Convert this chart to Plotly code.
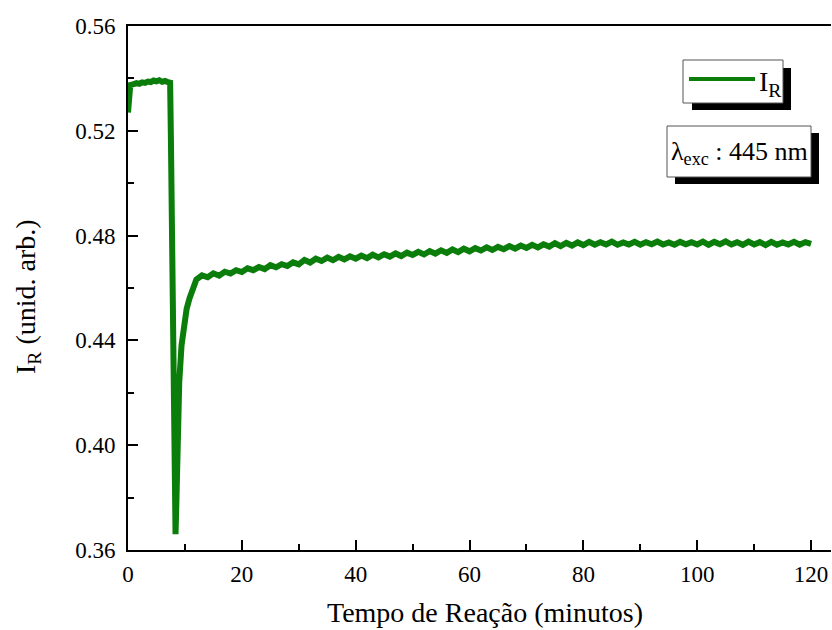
import plotly.graph_objects as go

# Plateau before reaction
t_pre = [0, 0.15, 0.4, 1, 1.5, 2, 2.5, 3, 3.5, 4, 4.5, 5, 5.5, 6, 6.5, 7, 7.4]
i_pre = [0.527, 0.535, 0.5375, 0.5378, 0.5382, 0.5379, 0.5385, 0.5383, 0.5388,
         0.5386, 0.5392, 0.5389, 0.5393, 0.5387, 0.5390, 0.5386, 0.5384]

# Drop and fast recovery
t_drop = [7.55, 7.7, 7.9, 8.1, 8.25, 8.35, 8.5, 8.7, 9.0, 9.4, 9.8, 10.3, 10.8, 11.4]
i_drop = [0.515, 0.48, 0.43, 0.385, 0.367, 0.366, 0.378, 0.40, 0.424, 0.438,
          0.446, 0.452, 0.456, 0.460]

# Slow recovery (12 .. 120 min)
t_rec = list(range(12, 121))
i_rec = [0.4632, 0.4648, 0.4641, 0.4656, 0.4647, 0.4662, 0.4655, 0.4668, 0.4661, 0.4675,
         0.4668, 0.4680, 0.4672, 0.4687, 0.4679, 0.4691, 0.4684, 0.4698, 0.4690, 0.4707,
         0.4697, 0.4712, 0.4703, 0.4716, 0.4706, 0.4719, 0.4709, 0.4721, 0.4712, 0.4724,
         0.4714, 0.4727, 0.4717, 0.4729, 0.4720, 0.4732, 0.4722, 0.4735, 0.4726, 0.4738,
         0.4728, 0.4741, 0.4731, 0.4744, 0.4734, 0.4747, 0.4737, 0.4750, 0.4740, 0.4752,
         0.4743, 0.4755, 0.4745, 0.4757, 0.4748, 0.4760, 0.4750, 0.4762, 0.4753, 0.4765,
         0.4755, 0.4767, 0.4758, 0.4771, 0.4760, 0.4772, 0.4762, 0.4774, 0.4764, 0.4776,
         0.4765, 0.4775, 0.4766, 0.4777, 0.4765, 0.4774, 0.4766, 0.4776, 0.4765, 0.4775,
         0.4767, 0.4777, 0.4766, 0.4774, 0.4765, 0.4776, 0.4767, 0.4775, 0.4766, 0.4777,
         0.4765, 0.4776, 0.4767, 0.4778, 0.4766, 0.4775, 0.4765, 0.4777, 0.4766, 0.4775,
         0.4764, 0.4776, 0.4765, 0.4774, 0.4766, 0.4776, 0.4765, 0.4775, 0.4768]

t = t_pre + t_drop + t_rec
i_r = i_pre + i_drop + i_rec

x_ticks = [0, 20, 40, 60, 80, 100, 120]
y_ticks = [0.36, 0.40, 0.44, 0.48, 0.52, 0.56]

GREEN = "#0a7d0a"
FONT = "Liberation Serif, Times New Roman, serif"

L, R, T, B = 128, 1, 26, 80
W, H = 832, 630
PW, PH = W - L - R, H - T - B

def px(x):
    return (x - L) / PW

def py(y):
    return (H - B - y) / PH

fig = go.Figure()
fig.add_trace(go.Scatter(x=t, y=i_r, mode="lines", name="I<sub>R</sub>",
                         line=dict(color=GREEN, width=6), showlegend=False))

axis_common = dict(showline=True, linecolor="black", linewidth=2, ticks="inside",
                   ticklen=10, tickwidth=2, tickcolor="black", showgrid=False,
                   zeroline=False, automargin=False,
                   tickfont=dict(family=FONT, size=23, color="black"))

fig.update_xaxes(range=[0, 123.5], tickvals=x_ticks, mirror=True, ticklabelstandoff=2,
                 minor=dict(dtick=10, ticks="inside", ticklen=6, tickwidth=2, tickcolor="black"),
                 **axis_common)
fig.update_yaxes(range=[0.36, 0.56], tickvals=y_ticks, tickformat=".2f", mirror=False,
                 ticklabelstandoff=6,
                 minor=dict(dtick=0.02, ticks="inside", ticklen=6, tickwidth=2, tickcolor="black"),
                 **axis_common)

shapes = []
# legend box with shadow
shapes.append(dict(type="rect", xref="paper", yref="paper", x0=px(692), x1=px(791),
                   y0=py(110), y1=py(68), fillcolor="black", line=dict(width=0)))
shapes.append(dict(type="rect", xref="paper", yref="paper", x0=px(683), x1=px(783),
                   y0=py(103), y1=py(60), fillcolor="white", line=dict(color="#555", width=1)))
shapes.append(dict(type="line", xref="paper", yref="paper", x0=px(689), x1=px(755),
                   y0=py(79), y1=py(79), line=dict(color=GREEN, width=4)))
# label box with shadow
shapes.append(dict(type="rect", xref="paper", yref="paper", x0=px(675), x1=px(819),
                   y0=py(184), y1=py(133), fillcolor="black", line=dict(width=0)))
shapes.append(dict(type="rect", xref="paper", yref="paper", x0=px(667), x1=px(811),
                   y0=py(177), y1=py(126), fillcolor="white", line=dict(color="#555", width=1)))

annotations = [
    dict(xref="paper", yref="paper", x=px(757), y=py(83), xanchor="left", yanchor="middle",
         text="I<sub>R</sub>", showarrow=False, font=dict(family=FONT, size=28, color="black")),
    dict(xref="paper", yref="paper", x=px(739), y=py(153), xanchor="center", yanchor="middle",
         text="λ<sub>exc</sub> : 445 nm", showarrow=False,
         font=dict(family=FONT, size=26, color="black")),
    # axis titles
    dict(xref="paper", yref="paper", x=px(485), y=py(612), xanchor="center", yanchor="middle",
         text="Tempo de Reação (minutos)", showarrow=False,
         font=dict(family=FONT, size=28, color="black")),
    dict(xref="paper", yref="paper", x=px(27), y=py(297), xanchor="center", yanchor="middle",
         text="I<sub>R</sub> (unid. arb.)", showarrow=False, textangle=-90,
         font=dict(family=FONT, size=28, color="black")),
]

fig.update_layout(width=W, height=H, margin=dict(l=L, r=R, t=T, b=B),
                  plot_bgcolor="white", paper_bgcolor="white",
                  shapes=shapes, annotations=annotations)

fig.write_html("out.html", config={"displayModeBar": False},
               post_script="document.body.style.margin='0';"
                           "document.body.style.overflow='hidden';")
